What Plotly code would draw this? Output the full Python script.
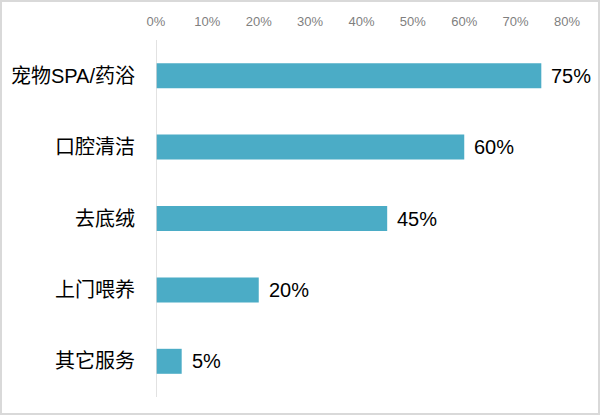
import plotly.graph_objects as go

# service categories and share of respondents (%)
categories = ["宠物SPA/药浴", "口腔清洁", "去底绒", "上门喂养", "其它服务"]
values = [75, 60, 45, 20, 5]
tick_vals = [0, 10, 20, 30, 40, 50, 60, 70, 80]
tick_text = [f"{v}%" for v in tick_vals]

bar_color = "#4BACC6"
font_family = "Liberation Sans, Noto Sans CJK SC"

fig = go.Figure(go.Bar(
    x=values,
    y=categories,
    orientation="h",
    marker=dict(color=bar_color, line=dict(width=0)),
    width=0.35,
    hoverinfo="skip",
))

# value labels a little right of each bar end
for cat, val in zip(categories, values):
    fig.add_annotation(x=val, y=cat, text=f"{val}%", showarrow=False,
                       xanchor="left", xshift=8,
                       font=dict(size=20, color="#000000", family=font_family))

fig.update_xaxes(
    side="top",
    range=[0, 80],
    tickvals=tick_vals,
    ticktext=tick_text,
    showgrid=False,
    zeroline=False,
    showline=False,
    ticks="",
    automargin=False,
    ticklabelstandoff=10,
    tickfont=dict(size=13, color="#7F7F7F", family=font_family),
)
fig.update_yaxes(
    autorange="reversed",
    showgrid=False,
    zeroline=False,
    showline=False,
    ticks="",
    automargin=False,
    ticklabelstandoff=20,
    tickfont=dict(size=20, color="#000000", family=font_family),
)

# vertical axis line at 0%
fig.add_shape(type="line", xref="x", yref="paper", x0=0, x1=0, y0=0, y1=1,
              line=dict(color="#D9D9D9", width=1.5))

# light frame round the whole picture
W, H = 600, 415
ml, mr, mt, mb = 156, 33, 40, 18
pw, ph = W - ml - mr, H - mt - mb
fig.add_shape(type="rect", xref="paper", yref="paper",
              x0=(1 - ml) / pw, x1=(W - ml - 1) / pw,
              y0=-(mb - 1) / ph, y1=(H - mb - 1) / ph,
              line=dict(color="#D9D9D9", width=2))

fig.update_layout(
    width=W, height=H,
    margin=dict(l=ml, r=mr, t=mt, b=mb, autoexpand=False),
    plot_bgcolor="white",
    paper_bgcolor="white",
    showlegend=False,
)

# page body has a default 8px margin, drop it so the chart fills the window
fig.write_html("out.html", config={"displayModeBar": False},
               post_script="document.body.style.margin='0';")
